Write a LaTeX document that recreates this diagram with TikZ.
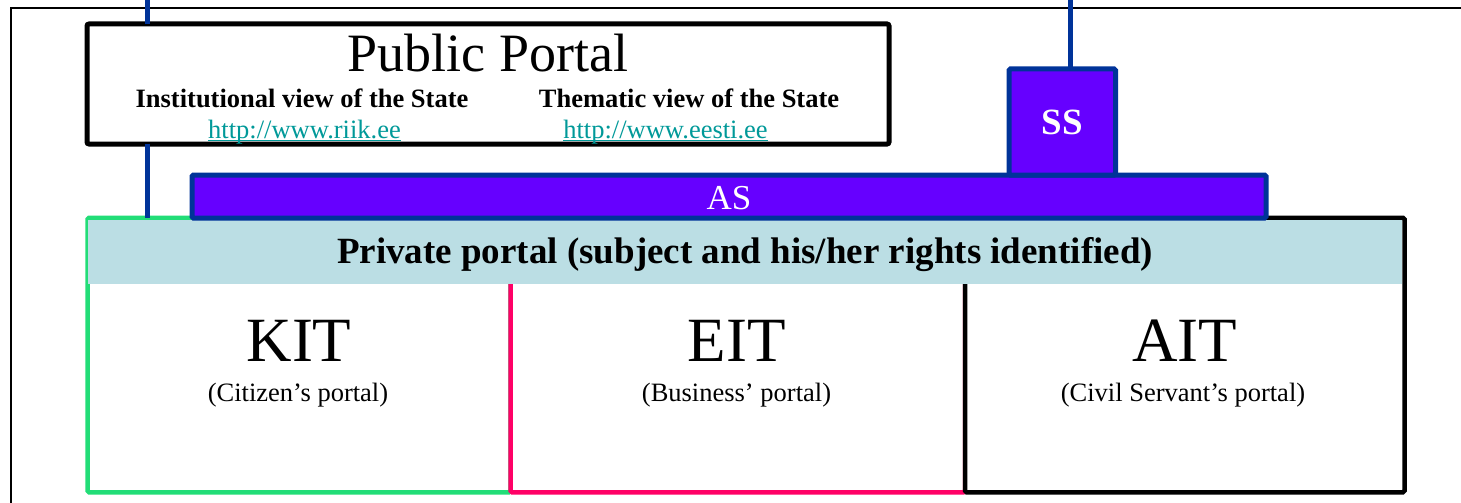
\documentclass[tikz,border=0pt]{standalone}
\usepackage{fontspec}
\setmainfont{Liberation Serif}
\definecolor{bordblue}{HTML}{003399}
\definecolor{fillviolet}{HTML}{6600FF}
\definecolor{privfill}{HTML}{BBDEE4}
\definecolor{kitgreen}{HTML}{22DD77}
\definecolor{eitpink}{HTML}{FF0066}
\definecolor{linkteal}{HTML}{009999}
\newcommand\linkul[1]{\setbox0=\hbox{#1}\rlap{\rule[-3pt]{\wd0}{1.2pt}}\box0}
\newcommand\fsz[1]{\fontsize{#1}{#1}\selectfont}
\tikzset{
  shapebox/.style={rectangle, inner sep=0pt, outer sep=0pt},
  pubbox/.style={shapebox, draw=black, line width=5pt, rounded corners=2pt, fill=white},
  violetbox/.style={shapebox, draw=bordblue, fill=fillviolet, line width=5pt, rounded corners=1.5pt},
  portbox/.style={shapebox, line width=4.5pt, rounded corners=1.5pt, fill=white},
  privbar/.style={shapebox, fill=privfill},
  blueline/.style={draw=bordblue, line width=5pt},
  txt/.style={inner sep=0pt, outer sep=0pt, anchor=base},
  frameline/.style={draw=black, line width=2pt}
}
\begin{document}
\begin{tikzpicture}[x=1pt,y=-1pt]
\useasboundingbox (0,0) rectangle (1461,503);
% outer frame
\coordinate (fbl) at (11,503);
\coordinate (ftl) at (11,8);
\coordinate (ftr) at (1461,8);
\draw[frameline] (fbl) -- (ftl) -- (ftr);

% connector end points at the top edge
\coordinate (ltop) at (147.5,0);
\coordinate (rtop) at (1070,0);

% public portal
\node[pubbox, minimum width=802pt, minimum height=120pt] (pub) at (488,84) {};
\node[txt, font=\fsz{54}] (pubt) at (488,71) {Public Portal};
\node[txt, font=\bfseries\fsz{26.5}] (inst) at (302,107) {Institutional view of the State};
\node[txt, font=\bfseries\fsz{26.5}] (them) at (689,107) {Thematic view of the State};
\node[txt, font=\fsz{26.5}, text=linkteal] (riik) at (304.5,138) {\linkul{http://www.riik.ee}};
\node[txt, font=\fsz{26.5}, text=linkteal] (eesti) at (665.5,138) {\linkul{http://www.eesti.ee}};

% three portals
\node[portbox, draw=kitgreen, minimum width=423pt, minimum height=274.5pt] (kit) at (299,355) {};
\node[portbox, draw=eitpink, minimum width=454.5pt, minimum height=274.5pt] (eit) at (737.75,355) {};
\node[portbox, draw=black, minimum width=439.5pt, minimum height=274.5pt] (ait) at (1184.75,355) {};

% blue connectors
\draw[blueline] (ltop) -- (ltop |- pub.north);
\draw[blueline] (pub.south -| ltop) -- (ltop |- kit.north);

% private portal bar
\node[privbar, minimum width=1314pt, minimum height=64pt] (priv) at (745,251.5) {};
\node[txt, font=\bfseries\fsz{37}] (privt) at (745,263) {Private portal (subject and his/her rights identified)};

% AS and SS
\node[violetbox, minimum width=1074pt, minimum height=43pt] (as) at (729,196.5) {};
\node[txt, font=\fsz{35}, text=white] (ast) at (729,209) {AS};
\node[violetbox, minimum width=106.5pt, minimum height=106pt] (ss) at (1062.25,122) {};
\node[txt, font=\bfseries\fsz{37}, text=white] (sst) at (1062,134) {SS};
\draw[blueline] (rtop) -- (rtop |- ss.north);

% portal texts
\node[txt, font=\fsz{63}] (kitt) at (299,361.5) {KIT};
\node[txt, font=\fsz{26.5}] (kits) at (298,401) {(Citizen’s portal)};
\node[txt, font=\fsz{63}] (eitt) at (736.5,361.5) {EIT};
\node[txt, font=\fsz{26.5}] (eits) at (736.5,401) {(Business’ portal)};
\node[txt, font=\fsz{63}] (aitt) at (1184.5,361.5) {AIT};
\node[txt, font=\fsz{26.5}] (aits) at (1183,401) {(Civil Servant’s portal)};
\end{tikzpicture}
\end{document}
